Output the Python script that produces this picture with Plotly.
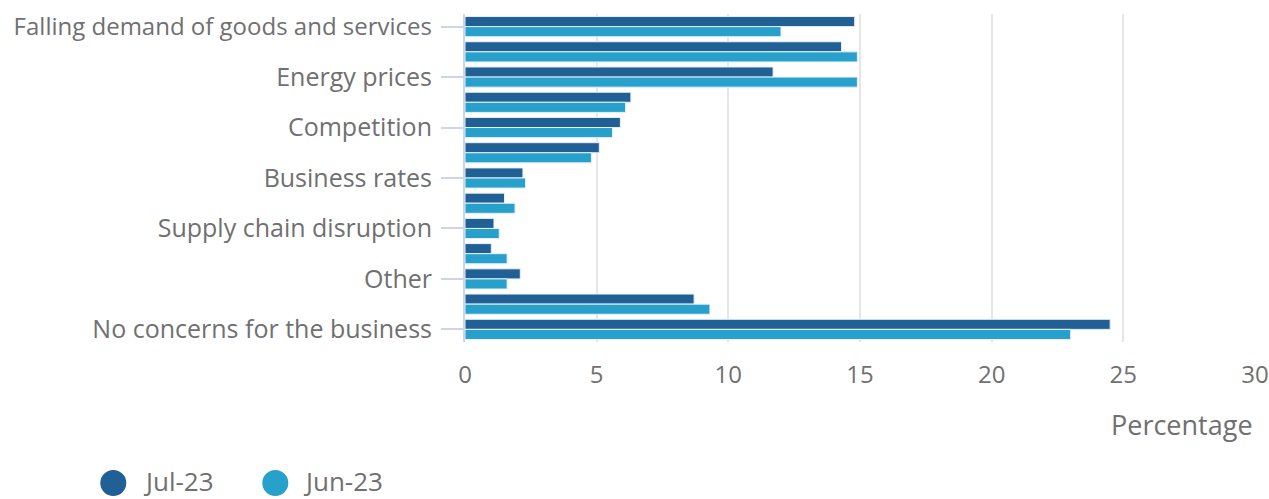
import plotly.graph_objects as go

categories = [
    "Falling demand of goods and services",
    "Inflation of goods and services prices",
    "Energy prices",
    "Labour costs",
    "Competition",
    "Interest rates",
    "Business rates",
    "Recruitment of staff",
    "Supply chain disruption",
    "Taxation",
    "Other",
    "Not sure",
    "No concerns for the business",
]
shown_labels = [
    "Falling demand of goods and services",
    "Energy prices",
    "Competition",
    "Business rates",
    "Supply chain disruption",
    "Other",
    "No concerns for the business",
]
jul23 = [14.8, 14.3, 11.7, 6.3, 5.9, 5.1, 2.2, 1.5, 1.1, 1.0, 2.1, 8.7, 24.5]
jun23 = [12.0, 14.9, 14.9, 6.1, 5.6, 4.8, 2.3, 1.9, 1.3, 1.6, 1.6, 9.3, 23.0]
x_ticks = [0, 5, 10, 15, 20, 25, 30]
series_names = ["Jul-23", "Jun-23"]

DARK = "#206095"
LIGHT = "#27a0cc"
TXT = "#707071"
FONT = "Open Sans"

W, H = 1269, 499
ML, MR, MT, MB = 465, 14, 14, 157
PW = W - ML - MR
PH = H - MT - MB

fig = go.Figure()
for name, vals, col in [(series_names[0], jul23, DARK), (series_names[1], jun23, LIGHT)]:
    fig.add_trace(go.Bar(y=categories, x=vals, orientation="h", name=name,
                         marker=dict(color=col, line=dict(color="#e8f0f8", width=1)),
                         showlegend=False))

# the longest label is set a touch smaller so it stays inside the page
tick_text = [
    ('<span style="font-size:24px">%s</span>' % t) if len(t) > 30 else t
    for t in shown_labels
]

fig.update_layout(
    width=W, height=H,
    margin=dict(l=ML, r=MR, t=MT, b=MB),
    paper_bgcolor="white", plot_bgcolor="white",
    barmode="group", bargap=0.2, bargroupgap=0.0,
    font=dict(family=FONT, color=TXT, size=22),
    showlegend=False,
)
fig.update_xaxes(range=[0, 30], tickvals=x_ticks, showgrid=True,
                 gridcolor="#e6e6e6", gridwidth=2, zeroline=False,
                 showline=False, ticks="", tickfont=dict(size=24, color=TXT),
                 ticklabelstandoff=16, automargin=False)
fig.update_yaxes(type="category", categoryorder="array", categoryarray=categories,
                 autorange="reversed", tickvals=shown_labels, ticktext=tick_text,
                 showgrid=False, showline=True, linecolor="#ccd6eb", linewidth=2,
                 ticks="outside", ticklen=22, tickwidth=2, tickcolor="#ccd6eb",
                 tickfont=dict(size=25, color=TXT), ticklabelstandoff=4,
                 automargin=False)
fig.add_annotation(text="Percentage", xref="paper", yref="paper", x=1, y=-0.25,
                   xanchor="right", yanchor="middle", showarrow=False,
                   font=dict(size=27, color=TXT))

# legend drawn as circle symbols + labels (pixel positions converted to paper coords)
def px_x(p):
    return (p - ML) / PW

def px_y(p):
    return (H - MB - p) / PH

legend_items = [(series_names[0], DARK, 113.3, 143), (series_names[1], LIGHT, 275.3, 303)]
for name, col, cx, tx in legend_items:
    fig.add_shape(type="circle", xref="paper", yref="paper",
                  xsizemode="pixel", ysizemode="pixel",
                  xanchor=px_x(cx), yanchor=px_y(483),
                  x0=-13, x1=13, y0=-13, y1=13,
                  fillcolor=col, line=dict(width=0), layer="above")
    fig.add_annotation(text=name, xref="paper", yref="paper",
                       x=px_x(tx - 2), y=px_y(481), xanchor="left", yanchor="middle",
                       showarrow=False, font=dict(size=26, color=TXT))

fig.write_html("out.html")
